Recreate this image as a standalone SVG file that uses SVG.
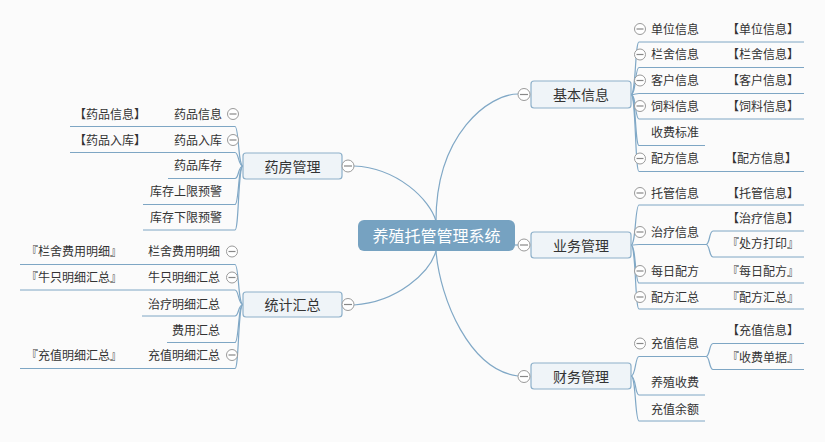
<svg xmlns="http://www.w3.org/2000/svg" width="825" height="442" viewBox="0 0 825 442">
<style>
  .bg{fill:#fbfbfb}
  .main{fill:#eff4f8;stroke:#8db0ca;stroke-width:1.2}
  .root{fill:#76a2c1}
  .conn{fill:none;stroke:#80a8c6;stroke-width:1.2}
  .ul{fill:none;stroke:#7ea6c4;stroke-width:1}
  .t{font-family:"Noto Sans CJK SC","Noto Sans",sans-serif;fill:#333}
  .t14{font-size:14px;text-anchor:middle}
  .t12{font-size:12px}
  .e{text-anchor:end}
  .rt{font-family:"Noto Sans CJK SC","Noto Sans",sans-serif;font-size:16px;fill:#ffffff;text-anchor:middle}
  .cc{fill:#ffffff;stroke:#9a9a9a;stroke-width:1}
  .cm{stroke:#888888;stroke-width:1.2}
</style>
<rect class="bg" x="0" y="0" width="825" height="442"/>

<g id="connectors">
  <!-- root to main topics -->
  <path class="conn" d="M436,221 C436,134 489,94 518,94"/>
  <path class="conn" d="M515,245 L518,245"/>
  <path class="conn" d="M436,251 C440,300 470,370 518,376"/>
  <path class="conn" d="M436,221 C430,200 398,168 354,166"/>
  <path class="conn" d="M436,251 C430,272 398,302 354,305"/>

  <!-- 基本信息 children -->
  <path class="conn" d="M631,94.5 C636,94.5 635,42 639,42"/>
  <path class="conn" d="M631,94.5 C636,94.5 635,67.5 639,67.5"/>
  <path class="conn" d="M631,94.5 C636,94.5 635,93.5 639,93.5"/>
  <path class="conn" d="M631,94.5 C636,94.5 635,119 639,119"/>
  <path class="conn" d="M631,94.5 C636,94.5 635,145.5 639,145.5"/>
  <path class="conn" d="M631,94.5 C636,94.5 635,171.5 639,171.5"/>
  <path class="ul" d="M639,42 H804 M639,67.5 H804 M639,93.5 H804 M639,119 H804 M639,145.5 H705 M639,171.5 H804"/>

  <!-- 业务管理 children -->
  <path class="conn" d="M631,245 C636,245 635,205 639,205"/>
  <path class="conn" d="M631,245 C636,245 635,244.5 639,244.5"/>
  <path class="conn" d="M631,245 C636,245 635,283 639,283"/>
  <path class="conn" d="M631,245 C636,245 635,309 639,309"/>
  <path class="ul" d="M639,205 H804 M639,244.5 H706 M639,283 H804 M639,309 H804"/>
  <path class="conn" d="M706,244.5 C710,244.5 709,231 713,231"/>
  <path class="conn" d="M706,244.5 C710,244.5 709,257 713,257"/>
  <path class="ul" d="M713,231 H804 M713,257 H804"/>

  <!-- 财务管理 children -->
  <path class="conn" d="M631,376 C636,376 635,356.5 639,356.5"/>
  <path class="conn" d="M631,376 C636,376 635,395 639,395"/>
  <path class="conn" d="M631,376 C636,376 635,421 639,421"/>
  <path class="ul" d="M639,356.5 H706 M639,395 H705 M639,421 H705"/>
  <path class="conn" d="M706,356.5 C710,356.5 709,343.5 713,343.5"/>
  <path class="conn" d="M706,356.5 C710,356.5 709,369.5 713,369.5"/>
  <path class="ul" d="M713,343.5 H804 M713,369.5 H804"/>

  <!-- 药房管理 children -->
  <path class="conn" d="M243,166 C238,166 239,126.5 235,126.5"/>
  <path class="conn" d="M243,166 C238,166 239,152.5 235,152.5"/>
  <path class="conn" d="M243,166 C238,166 239,178.5 235,178.5"/>
  <path class="conn" d="M243,166 C238,166 239,204.5 235,204.5"/>
  <path class="conn" d="M243,166 C238,166 239,230 235,230"/>
  <path class="ul" d="M70,126.5 H235 M70,152.5 H235 M168,178.5 H235 M143,204.5 H235 M143,230 H235"/>

  <!-- 统计汇总 children -->
  <path class="conn" d="M243,304.5 C238,304.5 239,264.5 235,264.5"/>
  <path class="conn" d="M243,304.5 C238,304.5 239,290 235,290"/>
  <path class="conn" d="M243,304.5 C238,304.5 239,316 235,316"/>
  <path class="conn" d="M243,304.5 C238,304.5 239,342.5 235,342.5"/>
  <path class="conn" d="M243,304.5 C238,304.5 239,368.5 235,368.5"/>
  <path class="ul" d="M20,264.5 H235 M20,290 H235 M142,316 H235 M167,342.5 H235 M20,368.5 H235"/>
</g>

<g id="root">
  <rect class="root" x="358" y="220" width="157" height="31" rx="6"/>
  <text class="rt" x="436.5" y="241.5">养殖托管管理系统</text>
</g>

<g id="jiben">
  <rect class="main" x="531" y="81" width="100" height="27" rx="3"/>
  <text class="t t14" x="581" y="100">基本信息</text>
  <circle class="cc" cx="524" cy="94.5" r="6"/><line class="cm" x1="520" y1="94.5" x2="528" y2="94.5"/>
</g>
<g id="yewu">
  <rect class="main" x="531" y="232" width="100" height="26" rx="3"/>
  <text class="t t14" x="581" y="250.5">业务管理</text>
  <circle class="cc" cx="524" cy="245" r="6"/><line class="cm" x1="520" y1="245" x2="528" y2="245"/>
</g>
<g id="caiwu">
  <rect class="main" x="531" y="363" width="100" height="26" rx="3"/>
  <text class="t t14" x="581" y="381.5">财务管理</text>
  <circle class="cc" cx="524" cy="376.5" r="6"/><line class="cm" x1="520" y1="376.5" x2="528" y2="376.5"/>
</g>
<g id="yaofang">
  <rect class="main" x="243" y="153" width="99" height="26" rx="3"/>
  <text class="t t14" x="292.5" y="171.5">药房管理</text>
  <circle class="cc" cx="348" cy="166" r="6"/><line class="cm" x1="344" y1="166" x2="352" y2="166"/>
</g>
<g id="tongji">
  <rect class="main" x="243" y="292" width="99" height="25" rx="3"/>
  <text class="t t14" x="292.5" y="310">统计汇总</text>
  <circle class="cc" cx="348" cy="304.5" r="6"/><line class="cm" x1="344" y1="304.5" x2="352" y2="304.5"/>
</g>

<!-- 基本信息 children -->
<g id="danwei">
  <circle class="cc" cx="640" cy="29" r="5.5"/><line class="cm" x1="636.5" y1="29" x2="643.5" y2="29"/>
  <text class="t t12" x="651" y="33.5">单位信息</text>
  <text class="t t12" x="727" y="33.5">【单位信息】</text>
</g>
<g id="lanshe">
  <circle class="cc" cx="640" cy="54.5" r="5.5"/><line class="cm" x1="636.5" y1="54.5" x2="643.5" y2="54.5"/>
  <text class="t t12" x="651" y="59">栏舍信息</text>
  <text class="t t12" x="727" y="59">【栏舍信息】</text>
</g>
<g id="kehu">
  <circle class="cc" cx="640" cy="80.5" r="5.5"/><line class="cm" x1="636.5" y1="80.5" x2="643.5" y2="80.5"/>
  <text class="t t12" x="651" y="85">客户信息</text>
  <text class="t t12" x="727" y="85">【客户信息】</text>
</g>
<g id="siliao">
  <circle class="cc" cx="640" cy="106" r="5.5"/><line class="cm" x1="636.5" y1="106" x2="643.5" y2="106"/>
  <text class="t t12" x="651" y="110.5">饲料信息</text>
  <text class="t t12" x="727" y="110.5">【饲料信息】</text>
</g>
<g id="shoufei">
  <text class="t t12" x="651" y="136.5">收费标准</text>
</g>
<g id="peifang">
  <circle class="cc" cx="640" cy="158.5" r="5.5"/><line class="cm" x1="636.5" y1="158.5" x2="643.5" y2="158.5"/>
  <text class="t t12" x="651" y="163">配方信息</text>
  <text class="t t12" x="725" y="163">【配方信息】</text>
</g>

<!-- 业务管理 children -->
<g id="tuoguan">
  <circle class="cc" cx="640" cy="193" r="5.5"/><line class="cm" x1="636.5" y1="193" x2="643.5" y2="193"/>
  <text class="t t12" x="651" y="197.5">托管信息</text>
  <text class="t t12" x="727" y="197.5">【托管信息】</text>
</g>
<g id="zhiliao">
  <circle class="cc" cx="640" cy="232" r="5.5"/><line class="cm" x1="636.5" y1="232" x2="643.5" y2="232"/>
  <text class="t t12" x="651" y="236.5">治疗信息</text>
  <text class="t t12" x="727" y="223">【治疗信息】</text>
  <text class="t t12" x="727" y="248">『处方打印』</text>
</g>
<g id="meiri">
  <circle class="cc" cx="640" cy="271" r="5.5"/><line class="cm" x1="636.5" y1="271" x2="643.5" y2="271"/>
  <text class="t t12" x="651" y="275.5">每日配方</text>
  <text class="t t12" x="727" y="275.5">『每日配方』</text>
</g>
<g id="peifanghz">
  <circle class="cc" cx="640" cy="297" r="5.5"/><line class="cm" x1="636.5" y1="297" x2="643.5" y2="297"/>
  <text class="t t12" x="651" y="301.5">配方汇总</text>
  <text class="t t12" x="727" y="301.5">『配方汇总』</text>
</g>

<!-- 财务管理 children -->
<g id="chongzhi">
  <circle class="cc" cx="640" cy="343.5" r="5.5"/><line class="cm" x1="636.5" y1="343.5" x2="643.5" y2="343.5"/>
  <text class="t t12" x="651" y="348">充值信息</text>
  <text class="t t12" x="727" y="335">【充值信息】</text>
  <text class="t t12" x="727" y="362">『收费单据』</text>
</g>
<g id="yangzhi">
  <text class="t t12" x="651" y="387">养殖收费</text>
</g>
<g id="yue">
  <text class="t t12" x="651" y="413.5">充值余额</text>
</g>

<!-- 药房管理 children -->
<g id="ypxx">
  <circle class="cc" cx="233" cy="114" r="5.5"/><line class="cm" x1="229.5" y1="114" x2="236.5" y2="114"/>
  <text class="t t12 e" x="222" y="118.5">药品信息</text>
  <text class="t t12" x="74" y="118.5">【药品信息】</text>
</g>
<g id="yprk">
  <circle class="cc" cx="233" cy="140" r="5.5"/><line class="cm" x1="229.5" y1="140" x2="236.5" y2="140"/>
  <text class="t t12 e" x="222" y="144.5">药品入库</text>
  <text class="t t12" x="74" y="144.5">【药品入库】</text>
</g>
<g id="ypkc">
  <text class="t t12 e" x="222" y="170">药品库存</text>
</g>
<g id="kcsx">
  <text class="t t12 e" x="222" y="196">库存上限预警</text>
</g>
<g id="kcxx">
  <text class="t t12 e" x="222" y="222">库存下限预警</text>
</g>

<!-- 统计汇总 children -->
<g id="lsfy">
  <circle class="cc" cx="232" cy="251.5" r="5.5"/><line class="cm" x1="228.5" y1="251.5" x2="235.5" y2="251.5"/>
  <text class="t t12 e" x="220" y="256">栏舍费用明细</text>
  <text class="t t12" x="26" y="256">『栏舍费用明细』</text>
</g>
<g id="nzmx">
  <circle class="cc" cx="232" cy="277.5" r="5.5"/><line class="cm" x1="228.5" y1="277.5" x2="235.5" y2="277.5"/>
  <text class="t t12 e" x="220" y="282">牛只明细汇总</text>
  <text class="t t12" x="26" y="282">『牛只明细汇总』</text>
</g>
<g id="zlmx">
  <text class="t t12 e" x="220" y="308.5">治疗明细汇总</text>
</g>
<g id="fyhz">
  <text class="t t12 e" x="220" y="334.5">费用汇总</text>
</g>
<g id="czmx">
  <circle class="cc" cx="232" cy="355" r="5.5"/><line class="cm" x1="228.5" y1="355" x2="235.5" y2="355"/>
  <text class="t t12 e" x="220" y="359.5">充值明细汇总</text>
  <text class="t t12" x="26" y="359.5">『充值明细汇总』</text>
</g>
</svg>
